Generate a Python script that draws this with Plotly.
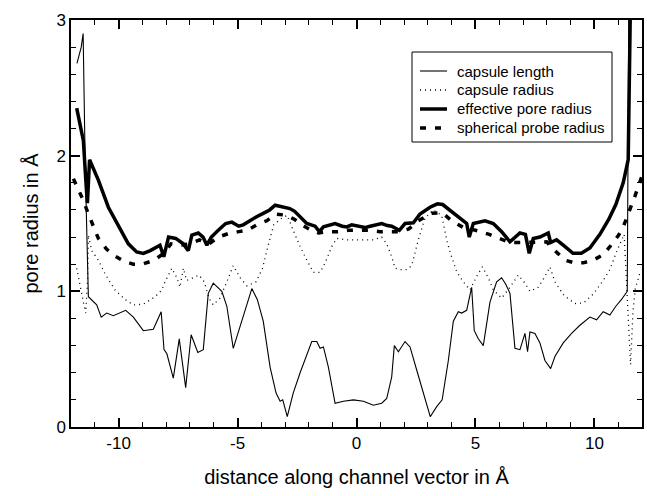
import plotly.graph_objects as go

# ---------------- data ----------------
x_len = [-11.75, -11.57, -11.49, -11.40, -11.27, -10.92, -10.73, -10.50, -10.22, -9.94, -9.70, -9.38,
         -8.96, -8.54, -8.21, -8.09, -7.97, -7.70, -7.45, -7.18, -6.95, -6.67, -6.44, -6.23, -6.02,
         -5.66, -5.45, -5.18, -4.82, -4.40, -4.17, -3.92, -3.63, -3.38, -3.21, -3.10, -2.91, -2.66,
         -2.37, -2.09, -1.88, -1.67, -1.53, -1.39, -1.18, -0.90, -0.55, -0.13, 0.29, 0.71, 1.06, 1.27,
         1.48, 1.59, 1.76, 2.04, 2.25, 2.53, 2.81, 3.10, 3.37, 3.60, 3.86, 4.07, 4.28, 4.42, 4.63,
         4.84, 4.95, 5.12, 5.33, 5.61, 5.89, 6.10, 6.28, 6.45, 6.66, 6.87, 7.08, 7.19, 7.29, 7.50,
         7.71, 7.92, 8.16, 8.34, 8.69, 9.04, 9.39, 9.81, 10.09, 10.37, 10.65, 10.90, 11.14, 11.38, 11.45]
y_len = [2.68, 2.80, 2.90, 1.90, 0.96, 0.90, 0.81, 0.84, 0.82, 0.84, 0.86, 0.81,
         0.71, 0.72, 0.85, 0.57, 0.54, 0.36, 0.65, 0.29, 0.68, 0.55, 0.57, 0.985, 1.06,
         1.00, 0.89, 0.58, 0.78, 1.02, 0.94, 0.78, 0.44, 0.25, 0.19, 0.20, 0.076, 0.25,
         0.40, 0.54, 0.63, 0.63, 0.58, 0.59, 0.44, 0.175, 0.19, 0.20, 0.19, 0.16, 0.175, 0.21,
         0.37, 0.60, 0.555, 0.63, 0.59, 0.42, 0.26, 0.076, 0.15, 0.20, 0.49, 0.78, 0.85, 0.84, 0.86,
         1.03, 0.71, 0.65, 0.60, 0.92, 1.07, 1.10, 1.05, 0.985, 0.58, 0.57, 0.69, 0.555, 0.70, 0.69,
         0.62, 0.49, 0.43, 0.52, 0.62, 0.69, 0.75, 0.81, 0.79, 0.85, 0.825, 0.89, 0.94, 1.00, 3.20]

x_rad = [-11.76, -11.62, -11.48, -11.38, -11.30, -11.27, -11.13, -10.85, -10.57, -10.15, -9.73, -9.38,
         -8.96, -8.47, -8.18, -8.05, -7.76, -7.55, -7.42, -7.28, -7.14, -6.86, -6.62, -6.40, -6.20,
         -6.02, -5.74, -5.45, -5.18, -4.89, -4.60, -4.22, -3.95, -3.71, -3.48, -3.14, -2.91, -2.66,
         -2.37, -2.09, -1.81, -1.53, -1.32, -1.04, -0.83, -0.41, 0.15, 0.71, 1.06, 1.27, 1.48, 1.62,
         1.83, 2.11, 2.32, 2.60, 2.88, 3.23, 3.58, 3.79, 3.93, 4.07, 4.21, 4.49, 4.77, 5.05, 5.29,
         5.54, 5.75, 6.10, 6.45, 6.80, 7.08, 7.29, 7.64, 7.92, 8.13, 8.34, 8.72, 9.18, 9.55, 9.95,
         10.37, 10.65, 10.95, 11.25, 11.38, 11.52, 11.62, 11.72, 11.92]
y_rad = [1.17, 1.03, 0.92, 0.84, 1.10, 1.415, 1.30, 1.23, 1.13, 1.01, 0.94, 0.90,
         0.905, 0.96, 1.01, 1.07, 1.17, 1.10, 1.03, 1.17, 1.08, 1.10, 1.12, 1.07, 0.95,
         0.90, 0.95, 1.07, 1.19, 1.10, 1.04, 1.07, 1.17, 1.34, 1.49, 1.54, 1.56, 1.45,
         1.33, 1.23, 1.14, 1.14, 1.21, 1.33, 1.39, 1.38, 1.38, 1.38, 1.40, 1.35, 1.255, 1.17,
         1.16, 1.16, 1.19, 1.38, 1.54, 1.60, 1.56, 1.38, 1.29, 1.22, 1.145, 1.07, 1.01, 1.11, 1.18,
         1.10, 1.01, 0.95, 1.03, 1.12, 1.06, 1.00, 1.03, 1.11, 1.18, 1.07, 0.97, 0.91, 0.915, 0.98,
         1.08, 1.16, 1.30, 1.42, 1.00, 0.46, 0.85, 1.02, 1.14]

x_eff = [-11.76, -11.48, -11.36, -11.31, -11.22, -10.85, -10.43, -10.01, -9.59, -9.24, -8.96, -8.67,
         -8.26, -8.10, -7.90, -7.60, -7.28, -7.07, -6.92, -6.65, -6.45, -6.29, -6.10, -5.81, -5.50,
         -5.24, -4.95, -4.76, -4.47, -4.20, -3.92, -3.65, -3.42, -3.08, -2.80, -2.60, -2.37, -2.09,
         -1.74, -1.56, -1.39, -0.90, -0.60, -0.41, -0.20, 0.08, 0.35, 0.57, 0.80, 1.06, 1.30, 1.48,
         1.80, 2.04, 2.39, 2.67, 3.09, 3.40, 3.62, 4.07, 4.42, 4.63, 4.74, 4.91, 5.40, 5.75, 6.10,
         6.45, 6.87, 7.10, 7.26, 7.43, 7.71, 8.06, 8.16, 8.41, 8.69, 9.10, 9.45, 9.81, 10.23, 10.60,
         10.90, 11.21, 11.42, 11.52]
y_eff = [2.35, 2.11, 1.77, 1.65, 1.97, 1.82, 1.62, 1.48, 1.35, 1.29, 1.28, 1.30,
         1.34, 1.255, 1.40, 1.39, 1.35, 1.30, 1.415, 1.43, 1.40, 1.34, 1.40, 1.45, 1.50,
         1.51, 1.48, 1.49, 1.525, 1.55, 1.575, 1.60, 1.635, 1.62, 1.61, 1.59, 1.55, 1.50,
         1.48, 1.44, 1.475, 1.50, 1.48, 1.475, 1.49, 1.48, 1.47, 1.48, 1.49, 1.50, 1.485, 1.48,
         1.45, 1.50, 1.505, 1.57, 1.62, 1.645, 1.64, 1.575, 1.525, 1.50, 1.40, 1.50, 1.52, 1.50, 1.44,
         1.365, 1.43, 1.42, 1.28, 1.39, 1.40, 1.43, 1.36, 1.38, 1.34, 1.28, 1.28, 1.32, 1.42, 1.53,
         1.64, 1.80, 1.97, 3.20]

x_sph = [-11.90, -11.52, -11.20, -10.85, -10.50, -10.15, -9.75, -9.38, -9.00, -8.50, -8.10, -7.80,
         -7.40, -7.00, -6.60, -6.20, -5.80, -5.32, -4.95, -4.59, -4.20, -3.77, -3.40, -2.93, -2.60,
         -2.30, -2.00, -1.60, -1.20, -0.78, -0.35, 0.06, 0.50, 0.99, 1.40, 1.83, 2.20, 2.60, 3.16,
         3.60, 4.00, 4.50, 5.00, 5.58, 6.00, 6.45, 7.00, 7.50, 7.99, 8.40, 8.76, 9.15, 9.53, 9.95,
         10.37, 10.70, 11.00, 11.20, 11.38, 11.70, 11.98]
y_sph = [1.83, 1.685, 1.54, 1.39, 1.31, 1.26, 1.22, 1.20, 1.20, 1.23, 1.28, 1.35,
         1.34, 1.35, 1.38, 1.35, 1.40, 1.43, 1.44, 1.45, 1.49, 1.52, 1.57, 1.56, 1.53,
         1.49, 1.46, 1.43, 1.44, 1.44, 1.45, 1.45, 1.45, 1.44, 1.44, 1.44, 1.46, 1.52, 1.575,
         1.58, 1.52, 1.47, 1.45, 1.42, 1.39, 1.36, 1.36, 1.36, 1.365, 1.29, 1.23, 1.21, 1.21, 1.23,
         1.27, 1.34, 1.41, 1.47, 1.55, 1.70, 1.84]

series_names = ["capsule length", "capsule radius", "effective pore radius", "spherical probe radius"]
x_ticks = [-10, -5, 0, 5, 10]
y_ticks = [0, 1, 2, 3]

FONT = "Liberation Sans, Arial, Helvetica, sans-serif"
W, H = 647, 496
ML, MR, MT, MB = 71, 5, 20, 69
PW, PH = W - ML - MR, H - MT - MB

styles = [
    dict(color="black", width=1.1),
    dict(color="black", width=1.3, dash="1px,4px"),
    dict(color="black", width=3.5),
    dict(color="black", width=3.5, dash="6px,9px"),
]
xs = [x_len, x_rad, x_eff, x_sph]
ys = [y_len, y_rad, y_eff, y_sph]

fig = go.Figure()
for name, xv, yv, st in zip(series_names, xs, ys, styles):
    fig.add_trace(go.Scatter(x=xv, y=yv, mode="lines", name=name, line=st, showlegend=False))

axis_common = dict(
    showline=True, linecolor="black", linewidth=1.5, mirror="ticks",
    ticks="inside", tickcolor="black", tickwidth=1.5, ticklen=9,
    showgrid=False, zeroline=False,
    tickfont=dict(family=FONT, size=17, color="black"),
)

fig.update_xaxes(**axis_common, range=[-12, 12], tickvals=x_ticks, ticktext=[str(v) for v in x_ticks],
                 minor=dict(ticks="inside", dtick=1, tick0=0, ticklen=5, tickcolor="black", tickwidth=1.2),
                 title=dict(text="distance along channel vector in Å", standoff=18,
                            font=dict(family=FONT, size=20, color="black")))
fig.update_yaxes(**axis_common, range=[0, 3], tickvals=y_ticks, ticktext=[str(v) for v in y_ticks],
                 minor=dict(ticks="inside", dtick=0.2, tick0=0, ticklen=5, tickcolor="black", tickwidth=1.2),
                 title=dict(text="pore radius in Å", standoff=12,
                            font=dict(family=FONT, size=20, color="black")))

# ---- hand-built legend box (pixel layout converted to paper coords) ----
def px(xp):
    return (xp - ML) / PW

def py(yp):
    return (H - MB - yp) / PH

box_l, box_r, box_t, box_b = 412, 612, 52, 142
row0, row_gap = 71, 19
line_l, line_r, text_l = 420, 447, 455

shapes = [dict(type="rect", xref="paper", yref="paper",
               x0=px(box_l), x1=px(box_r), y0=py(box_b), y1=py(box_t),
               line=dict(color="black", width=1), fillcolor="white", layer="above")]
annotations = []
for i, (name, st) in enumerate(zip(series_names, styles)):
    yr = row0 + i * row_gap
    shapes.append(dict(type="line", xref="paper", yref="paper",
                       x0=px(line_l), x1=px(line_r), y0=py(yr), y1=py(yr),
                       line=st, layer="above"))
    annotations.append(dict(xref="paper", yref="paper", x=px(text_l), y=py(yr),
                            xanchor="left", yanchor="middle", text=name, showarrow=False,
                            font=dict(family=FONT, size=15, color="black")))

fig.update_layout(
    width=W, height=H,
    margin=dict(l=ML, r=MR, t=MT, b=MB, autoexpand=False),
    paper_bgcolor="white", plot_bgcolor="white",
    font=dict(family=FONT, color="black"),
    showlegend=False,
    shapes=shapes, annotations=annotations,
)

fig.write_html("out.html")
